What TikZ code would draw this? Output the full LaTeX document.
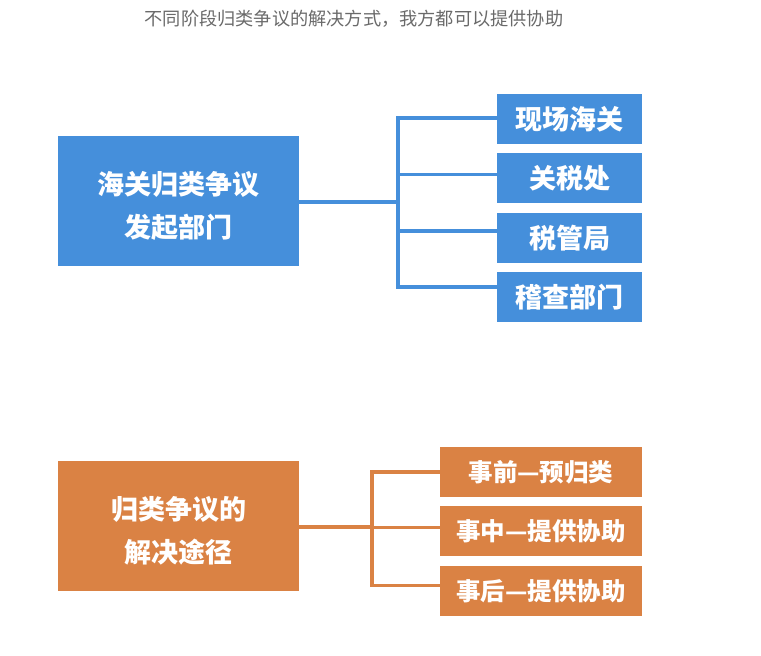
\documentclass[tikz,border=0pt]{standalone}
\usepackage{fontspec}
\newfontfamily\cjk{Noto Sans CJK SC}
\usepackage{tikz}
\usetikzlibrary{positioning}
\definecolor{deptblue}{HTML}{458FDB}
\definecolor{wayorange}{HTML}{DA8244}
\definecolor{titlegray}{HTML}{6A6A6A}
\tikzset{
  mainbox/.style={
    rectangle, draw=none, fill=#1,
    minimum width=241pt, minimum height=130pt,
    text=white, align=center, inner sep=0pt,
    font=\cjk\bfseries\fontsize{27}{43}\selectfont
  },
  mainbox/.default=deptblue,
  itembox/.style={
    rectangle, draw=none, fill=#1,
    minimum height=50pt, text=white, inner sep=0pt
  },
  itembox/.default=deptblue,
  branch/.style={
    draw=#1, line width=3.6pt
  },
  branch/.default=deptblue,
}

\begin{document}
\begin{tikzpicture}[x=1pt, y=-1pt, node distance=9pt]

\useasboundingbox (0,0) rectangle (761,656);

\node[font=\cjk\fontsize{18.2}{22}\selectfont, text=titlegray] (title) at (354,19)
  {不同阶段归类争议的解决方式，我方都可以提供协助};

% 上半部分：发起部门
\node[mainbox] (origin) at (178.5,201) {\rule{0pt}{33pt}海关归类争议\\发起部门};
\node[itembox, minimum width=145pt, font=\cjk\bfseries\fontsize{27}{30}\selectfont]
  (site) at (569.5,119) {现场海关};
\node[itembox, minimum width=145pt, font=\cjk\bfseries\fontsize{27}{30}\selectfont,
  below=of site] (tariff) {关税处};
\node[itembox, minimum width=145pt, font=\cjk\bfseries\fontsize{27}{30}\selectfont,
  below=of tariff] (taxbureau) {税管局};
\node[itembox, minimum width=145pt, font=\cjk\bfseries\fontsize{27}{30}\selectfont,
  below=of taxbureau] (audit) {稽查部门};

\coordinate (fork1) at (398,202);
\draw[branch] (origin.east |- fork1) -- (fork1);
\draw[branch] (fork1) |- ([yshift=1pt]site.west);
\draw[branch] (fork1) |- ([yshift=4pt]tariff.west);
\draw[branch] (fork1) |- ([yshift=7pt]taxbureau.west);
\draw[branch] (fork1) |- ([yshift=10pt]audit.west);

% 下半部分：解决途径
\node[mainbox=wayorange] (route) at (178.5,526) {\rule{0pt}{33pt}归类争议的\\解决途径};
\node[itembox=wayorange, minimum width=202pt, font=\cjk\bfseries\fontsize{24.5}{28}\selectfont]
  (before) at (541,472) {事前—预归类};
\node[itembox=wayorange, minimum width=202pt, font=\cjk\bfseries\fontsize{24.5}{28}\selectfont,
  below=of before] (during) {事中—提供协助};
\node[itembox=wayorange, minimum width=202pt, font=\cjk\bfseries\fontsize{24.5}{28}\selectfont,
  below=of during] (after) {事后—提供协助};

\coordinate (fork2) at (372,527);
\draw[branch=wayorange] (route.east |- fork2) -- (fork2);
\draw[branch=wayorange] (fork2) |- (before.west);
\draw[branch=wayorange] (fork2) |- ([yshift=4pt]during.west);
\draw[branch=wayorange] (fork2) |- ([yshift=5.5pt]after.west);

\end{tikzpicture}
\end{document}
